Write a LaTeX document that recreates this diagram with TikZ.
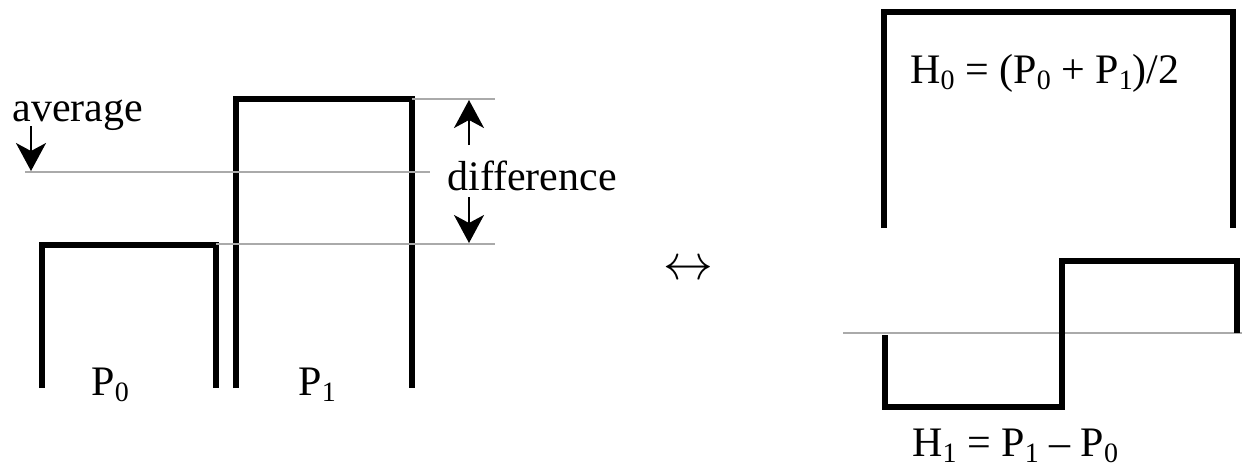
\documentclass[tikz,border=0pt]{standalone}
\usepackage{fontspec}
\setmainfont{Liberation Serif}
\usetikzlibrary{arrows.meta}

\definecolor{guidegray}{RGB}{170,170,170}
\newcommand{\sbs}[1]{\raisebox{-3pt}{\fontsize{14}{14}\selectfont #1}}

\tikzset{
  bar/.style={line width=3pt, line cap=butt, line join=miter},
  guide/.style={guidegray, line width=0.7pt},
  pointer/.style={line width=1pt, -{Stealth[length=14pt,width=15pt,inset=4pt]}},
  label/.style={font=\fontsize{21}{25}\selectfont, inner sep=0pt, anchor=base west}
}

\begin{document}
\begin{tikzpicture}[x=0.5pt,y=-0.5pt]
\useasboundingbox (0,0) rectangle (1242,468);

% Define the coordinates of the pulse corners
\coordinate (P0a) at (42,388);
\coordinate (P0b) at (216,388);
\coordinate (P1a) at (236,388);
\coordinate (P1b) at (412,388);

% Draw the two pulses P0 and P1
\draw[bar] (P0a) |- (216,245) -- (P0b);
\draw[bar] (P1a) |- (412,99) -- (P1b);

% Guide lines for the average and the difference
\draw[guide] (25,172) coordinate (avgL) -- (430,172);
\draw[guide] (412,99) -- (495,99) coordinate (topR);
\draw[guide] (216,244) -- (495,244) coordinate (botR);

% Label the average with a down arrow
\node[label] (avg) at (12,121) {average};
\coordinate (avgS) at (31,126);
\coordinate (avgE) at (31,171);
\draw[pointer] (avgS) -- (avgE);

% Label the difference with arrows up and down
\node[label] (diff) at (447,190) {difference};
\coordinate (upS) at (469,145);
\coordinate (upE) at (469,100);
\coordinate (dnS) at (469,197);
\coordinate (dnE) at (469,243);
\draw[pointer] (upS) -- (upE);
\draw[pointer] (dnS) -- (dnE);

% Label the pulses
\node[label] (p0) at (91,395) {P\sbs{0}};
\node[label] (p1) at (298,395) {P\sbs{1}};

% The double arrow between the two pictures
\node[font=\fontsize{27}{30}\selectfont, inner sep=0pt] (eqv) at (688,270) {$\leftrightarrow$};

% Draw H0 (the average part)
\draw[bar] (884,228) |- (1233,12) -- (1233,228);
\node[label] (h0) at (910,83) {H\sbs{0} = (P\sbs{0} + P\sbs{1})/2};

% Draw H1 (the difference part) and its zero line
\draw[guide] (843,333) -- (1242,333);
\draw[bar] (885,335) |- (1062,407) |- (1237,261) -- (1237,333);
\node[label] (h1) at (912,456) {H\sbs{1} = P\sbs{1} – P\sbs{0}};

\end{tikzpicture}
\end{document}
